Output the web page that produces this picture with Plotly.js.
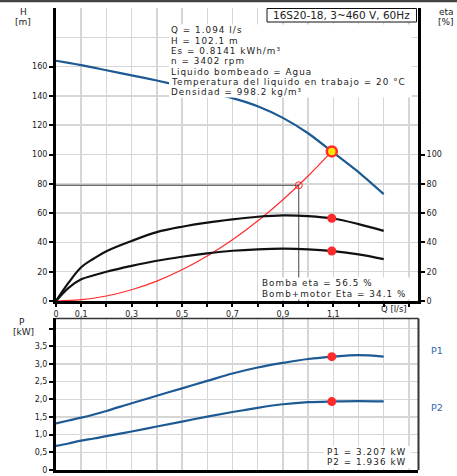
<!DOCTYPE html>
<html>
<head>
<meta charset="utf-8">
<script src="https://cdn.plot.ly/plotly-3.0.1.min.js"></script>
<style>html,body{margin:0;padding:0;background:#fff;}#chart{width:457px;height:476px;}</style>
</head>
<body>
<div id="chart"></div>
<script>
// ---- data ----
const flow = [0, 0.05, 0.1, 0.15, 0.2, 0.3, 0.4, 0.5, 0.6, 0.7, 0.8, 0.9, 1.0, 1.1, 1.2, 1.3];
const head = [164, 162.5, 161, 159.3, 157.5, 154, 150.5, 146.5, 142.5, 138.5, 133, 125, 114.5, 101.3, 88, 73];
const etaPump = [0, 12.5, 23, 29, 34, 41, 47, 50.7, 53.5, 55.7, 57.5, 58.5, 58, 56.3, 52.5, 47.9];
const etaTotal = [0, 9, 14.8, 17.6, 20, 24, 27.5, 30.2, 32.5, 34.3, 35.3, 35.7, 35.3, 34, 31.8, 28.6];
const power1 = [1.32, 1.40, 1.48, 1.57, 1.67, 1.89, 2.10, 2.31, 2.52, 2.73, 2.90, 3.03, 3.14, 3.21, 3.25, 3.21];
const power2 = [0.68, 0.75, 0.83, 0.89, 0.96, 1.09, 1.23, 1.37, 1.51, 1.64, 1.76, 1.86, 1.92, 1.94, 1.95, 1.94];
const sysFlow = [0, 0.1, 0.2, 0.3, 0.4, 0.5, 0.6, 0.7, 0.8, 0.9, 1.0, 1.094];
const sysHead = [0, 0.9, 3.4, 7.7, 13.6, 21.3, 30.7, 41.8, 54.6, 69.1, 85.3, 102.1];
const opFlow = [1.094];
const opHead = [102.1];
const opEta = [56.5, 34.1];
const opPower = [3.207, 1.936];
const refFlow = [0.963];
const refHead = [79];

const xTickVals = [0, 0.1, 0.2, 0.3, 0.4, 0.5, 0.6, 0.7, 0.8, 0.9, 1.0, 1.1, 1.2, 1.3, 1.4];
const xTickText = ['0', '0,1', '', '0,3', '', '0,5', '', '0,7', '', '0,9', '', '1,1', '', '', ''];
const hTicks = [0, 20, 40, 60, 80, 100, 120, 140, 160];
const etaTicks = [0, 20, 40, 60, 80, 100];
const pTickVals = [0, 0.5, 1, 1.5, 2, 2.5, 3, 3.5, 4];
const pTickText = ['0', '0,5', '1,0', '1,5', '2,0', '2,5', '3,0', '3,5', ''];

const infoLines = [
  'Q = 1.094 l/s',
  'H = 102.1 m',
  'Es = 0.8141 kWh/m³',
  'n = 3402 rpm',
  'Liquido bombeado = Agua',
  'Temperatura del liquido en trabajo = 20 °C',
  'Densidad = 998.2 kg/m³'
];
const titleText = '16S20-18, 3~460 V, 60Hz';
const etaLines = ['Bomba eta = 56.5 %', 'Bomb+motor Eta = 34.1 %'];
const powerLines = ['P1 = 3.207 kW', 'P2 = 1.936 kW'];

// ---- styles ----
const BLUE = '#1d5a94';
const RED = '#ff2a2a';
const GRID = '#d6d6d6';
const TXT = '#222';
const FONT = 'DejaVu Sans, Arial, sans-serif';
const BODY = 8.8;

// pixel -> paper helpers (plot area: x 56..418, y 8..470)
const L = 56, R = 39, T = 8, B = 6, W = 457, HT = 476;
const PW = W - L - R, PH = HT - T - B;
const px = v => (v - L) / PW;
const py = v => (HT - B - v) / PH;

const traces = [
  {x: flow, y: head, xaxis: 'x', yaxis: 'y', mode: 'lines', line: {color: BLUE, width: 2.2, shape: 'spline', smoothing: 0.6}, hoverinfo: 'skip'},
  {x: sysFlow, y: sysHead, xaxis: 'x', yaxis: 'y', mode: 'lines', line: {color: RED, width: 1.2, shape: 'spline'}, hoverinfo: 'skip'},
  {x: flow, y: etaPump, xaxis: 'x', yaxis: 'y2', mode: 'lines', line: {color: '#111', width: 2.2, shape: 'spline'}, hoverinfo: 'skip'},
  {x: flow, y: etaTotal, xaxis: 'x', yaxis: 'y2', mode: 'lines', line: {color: '#111', width: 2.2, shape: 'spline'}, hoverinfo: 'skip'},
  {x: [0, refFlow[0], refFlow[0]], y: [refHead[0], refHead[0], 0], xaxis: 'x', yaxis: 'y', mode: 'lines', line: {color: '#444', width: 1}, hoverinfo: 'skip'},
  {x: refFlow, y: refHead, xaxis: 'x', yaxis: 'y', mode: 'markers', marker: {symbol: 'circle-open', size: 7, color: RED, line: {width: 1}}, hoverinfo: 'skip'},
  {x: opFlow, y: opHead, xaxis: 'x', yaxis: 'y', mode: 'markers', marker: {size: 10, color: '#ffe600', line: {color: RED, width: 2.5}}, hoverinfo: 'skip'},
  {x: [opFlow[0], opFlow[0]], y: opEta, xaxis: 'x', yaxis: 'y2', mode: 'markers', marker: {size: 9, color: RED}, hoverinfo: 'skip'},
  {x: flow, y: power1, xaxis: 'x2', yaxis: 'y3', mode: 'lines', line: {color: BLUE, width: 2.2, shape: 'spline'}, hoverinfo: 'skip'},
  {x: flow, y: power2, xaxis: 'x2', yaxis: 'y3', mode: 'lines', line: {color: BLUE, width: 2.2, shape: 'spline'}, hoverinfo: 'skip'},
  {x: [opFlow[0], opFlow[0]], y: opPower, xaxis: 'x2', yaxis: 'y3', mode: 'markers', marker: {size: 9, color: RED}, hoverinfo: 'skip'}
];

const axisFont = {family: FONT, size: 8, color: TXT};
const topDomain = [py(301), 1];
const botDomain = [0, py(318)];

const annotations = [];
const spaced = [];
const bodyNote = (t, x, y) => {
  spaced.push(annotations.length);
  annotations.push({xref: 'paper', yref: 'paper', x: px(x), y: py(y), xanchor: 'left', yanchor: 'middle', align: 'left', text: t, showarrow: false, font: {family: FONT, size: BODY, color: TXT}, borderpad: 0});
};
infoLines.forEach((t, i) => bodyNote(t, 170, [30.4, 40.7, 51.0, 61.3, 71.6, 81.9, 92.2][i]));
etaLines.forEach((t, i) => bodyNote(t, 261, [283.3, 294.2][i]));
powerLines.forEach((t, i) => bodyNote(t, 326, [451.6, 462.2][i]));

const lab = (t, x, y, extra) => Object.assign({xref: 'paper', yref: 'paper', x: px(x), y: py(y), xanchor: 'center', yanchor: 'middle', text: t, showarrow: false, font: {family: FONT, size: 9, color: TXT}}, extra || {});
annotations.push(lab(titleText, 341.5, 15, {font: {family: FONT, size: 10.5, color: TXT}}));
annotations.push(lab('H', 23, 12));
annotations.push(lab('[m]', 23, 21.8));
annotations.push(lab('eta', 446, 12));
annotations.push(lab('[%]', 446, 21.8));
annotations.push(lab('P', 22, 321.5));
annotations.push(lab('[kW]', 23, 331.5));
annotations.push(lab('Q [l/s]', 394, 309, {font: {family: FONT, size: 8.5, color: TXT}}));
annotations.push(lab('P1', 437, 350.7, {font: {family: FONT, size: 9.5, color: '#2d6aa6'}}));
annotations.push(lab('P2', 437, 407, {font: {family: FONT, size: 9.5, color: '#2d6aa6'}}));

const shapes = [
  // white backing boxes behind texts
  {type: 'rect', xref: 'paper', yref: 'paper', x0: px(169), x1: px(412), y0: py(97.5), y1: py(24.5), fillcolor: '#fff', line: {width: 0}, layer: 'above'},
  {type: 'rect', xref: 'paper', yref: 'paper', x0: px(259), x1: px(411), y0: py(299.5), y1: py(277.5), fillcolor: '#fff', line: {width: 0}, layer: 'above'},
  {type: 'rect', xref: 'paper', yref: 'paper', x0: px(324), x1: px(411), y0: py(468.5), y1: py(446), fillcolor: '#fff', line: {width: 0}, layer: 'above'},
  // title box
  {type: 'rect', xref: 'paper', yref: 'paper', x0: px(267), x1: px(416.5), y0: py(22), y1: py(8.5), fillcolor: '#fff', line: {color: '#111', width: 1}, layer: 'above'},
  // bottom panel frame (top and right)
  {type: 'line', xref: 'paper', yref: 'paper', x0: px(56), x1: px(418.5), y0: py(318.5), y1: py(318.5), line: {color: '#333', width: 1.5}, layer: 'above'},
  {type: 'line', xref: 'paper', yref: 'paper', x0: px(418.5), x1: px(418.5), y0: py(318.5), y1: py(470), line: {color: '#333', width: 2}, layer: 'above'},
  // image top border
  {type: 'line', xref: 'paper', yref: 'paper', x0: px(0), x1: px(457), y0: py(1), y1: py(1), line: {color: '#444', width: 2.5}, layer: 'above'}
];

const layout = {
  width: W, height: HT,
  margin: {l: L, r: R, t: T, b: B, pad: 0},
  paper_bgcolor: '#fff', plot_bgcolor: '#fff',
  showlegend: false,
  font: {family: FONT, size: 9, color: TXT},
  xaxis: {
    domain: [0, 1], range: [0, 1.436], anchor: 'y',
    tickmode: 'array', tickvals: xTickVals, ticktext: xTickText,
    ticks: 'outside', ticklen: 3, tickwidth: 2, tickcolor: '#000',
    showline: true, linewidth: 3, linecolor: '#000',
    showgrid: true, gridcolor: GRID, gridwidth: 1.5, zeroline: false,
    tickfont: axisFont, fixedrange: true
  },
  yaxis: {
    domain: topDomain, range: [0, 200], anchor: 'x',
    tickmode: 'array', tickvals: hTicks,
    ticks: 'outside', ticklen: 4, tickwidth: 2, tickcolor: '#000',
    showline: true, linewidth: 3, linecolor: '#000',
    showgrid: true, gridcolor: GRID, gridwidth: 1.5, zeroline: false,
    minor: {tick0: 0, dtick: 20, showgrid: true, gridcolor: GRID, gridwidth: 1.5, ticks: ''},
    tickfont: axisFont, fixedrange: true
  },
  yaxis2: {
    overlaying: 'y', side: 'right', anchor: 'x', range: [0, 200],
    tickmode: 'array', tickvals: etaTicks,
    ticks: 'outside', ticklen: 4, tickwidth: 2, tickcolor: '#000',
    showline: true, linewidth: 3, linecolor: '#000',
    showgrid: false, zeroline: false,
    tickfont: axisFont, fixedrange: true
  },
  xaxis2: {
    domain: [0, 1], range: [0, 1.436], anchor: 'y3',
    tickmode: 'array', tickvals: xTickVals, showticklabels: false, ticks: '',
    showline: true, linewidth: 3, linecolor: '#000',
    showgrid: true, gridcolor: GRID, gridwidth: 1.5, zeroline: false, fixedrange: true
  },
  yaxis3: {
    domain: botDomain, range: [0, 4.3], anchor: 'x2',
    tickmode: 'array', tickvals: pTickVals, ticktext: pTickText,
    ticks: 'outside', ticklen: 4, tickwidth: 2, tickcolor: '#000',
    showline: true, linewidth: 3, linecolor: '#000',
    showgrid: true, gridcolor: GRID, gridwidth: 1.5, zeroline: false,
    tickfont: axisFont, fixedrange: true
  },
  annotations: annotations,
  shapes: shapes
};

Plotly.newPlot('chart', traces, layout, {displayModeBar: false, staticPlot: true}).then(gd => {
  // the reference text is set with wide tracking
  gd.querySelectorAll('.infolayer g.annotation').forEach(g => {
    const idx = Number(g.getAttribute('data-index'));
    if (spaced.includes(idx)) {
      g.querySelectorAll('text').forEach(t => { t.style.letterSpacing = '1.05px'; });
    }
  });
});
</script>
</body>
</html>
